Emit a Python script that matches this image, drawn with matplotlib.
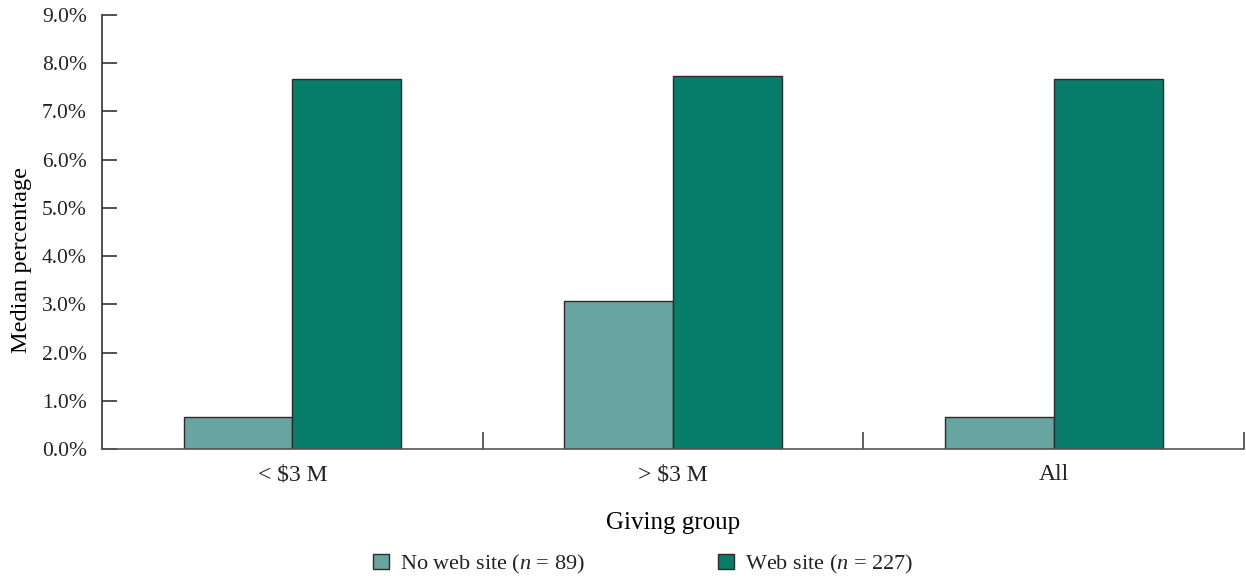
import matplotlib.pyplot as plt
import numpy as np
from matplotlib.ticker import FuncFormatter

# data
groups = ['< $3 M', '> $3 M', 'All']
no_web = [0.66, 3.07, 0.66]
web = [7.68, 7.74, 7.68]
series_labels = ['No web site ($n$ = 89)', 'Web site ($n$ = 227)']

light = '#68a5a0'
dark = '#077d6a'
edge = '#2b2b2b'

plt.rcParams['font.family'] = ['Liberation Serif', 'DejaVu Serif']
plt.rcParams['mathtext.fontset'] = 'custom'
plt.rcParams['mathtext.it'] = 'Liberation Serif:italic'
plt.rcParams['mathtext.rm'] = 'Liberation Serif'
plt.rcParams['text.color'] = '#222222'

fig = plt.figure(figsize=(12.46, 5.76), dpi=100)
ax = fig.add_axes([0.0819, 0.2205, 0.9165, 0.7535])

x = np.arange(len(groups)) + 0.5
w = 0.286
b1 = ax.bar(x - w / 2, no_web, w, color=light, edgecolor=edge, linewidth=1.0, label=series_labels[0])
b2 = ax.bar(x + w / 2, web, w, color=dark, edgecolor=edge, linewidth=1.0, label=series_labels[1])

ax.set_xlim(0, len(groups))
ax.set_ylim(0, 9)
ax.set_yticks(np.arange(0, 9.5, 1.0))
ax.yaxis.set_major_formatter(FuncFormatter(lambda v, p: f'{v:.1f}%'))

# category labels in the middle, tick marks on the boundaries
ax.set_xticks(x)
ax.set_xticklabels(groups)
ax.tick_params(axis='x', which='major', length=0, pad=11, labelsize=17, labelcolor='#222222')
ax.set_xticks(np.arange(1, len(groups) + 1), minor=True)
ax.tick_params(axis='x', which='minor', direction='in', length=12, color='#444444', width=1.2)
ax.tick_params(axis='y', direction='in', length=11, color='#333333', width=1.2, labelsize=15.5,
               pad=11, labelcolor='#222222')

for s in ['top', 'right']:
    ax.spines[s].set_visible(False)
ax.spines['left'].set_color('#333333')
ax.spines['left'].set_linewidth(1.2)
ax.spines['bottom'].set_color('#555555')
ax.spines['bottom'].set_linewidth(1.2)

ax.set_ylabel('Median percentage', fontsize=17.5)
ax.yaxis.set_label_coords(-0.061, 0.435)
ax.set_xlabel('Giving group', fontsize=18, labelpad=19)

fig.legend(handles=[b1, b2], loc='lower center', bbox_to_anchor=(0.516, -0.034), ncol=2,
           frameon=False, fontsize=16, handlelength=0.7, handleheight=0.7,
           handletextpad=0.5, columnspacing=6.0)

fig.savefig('out.png', dpi=100)
